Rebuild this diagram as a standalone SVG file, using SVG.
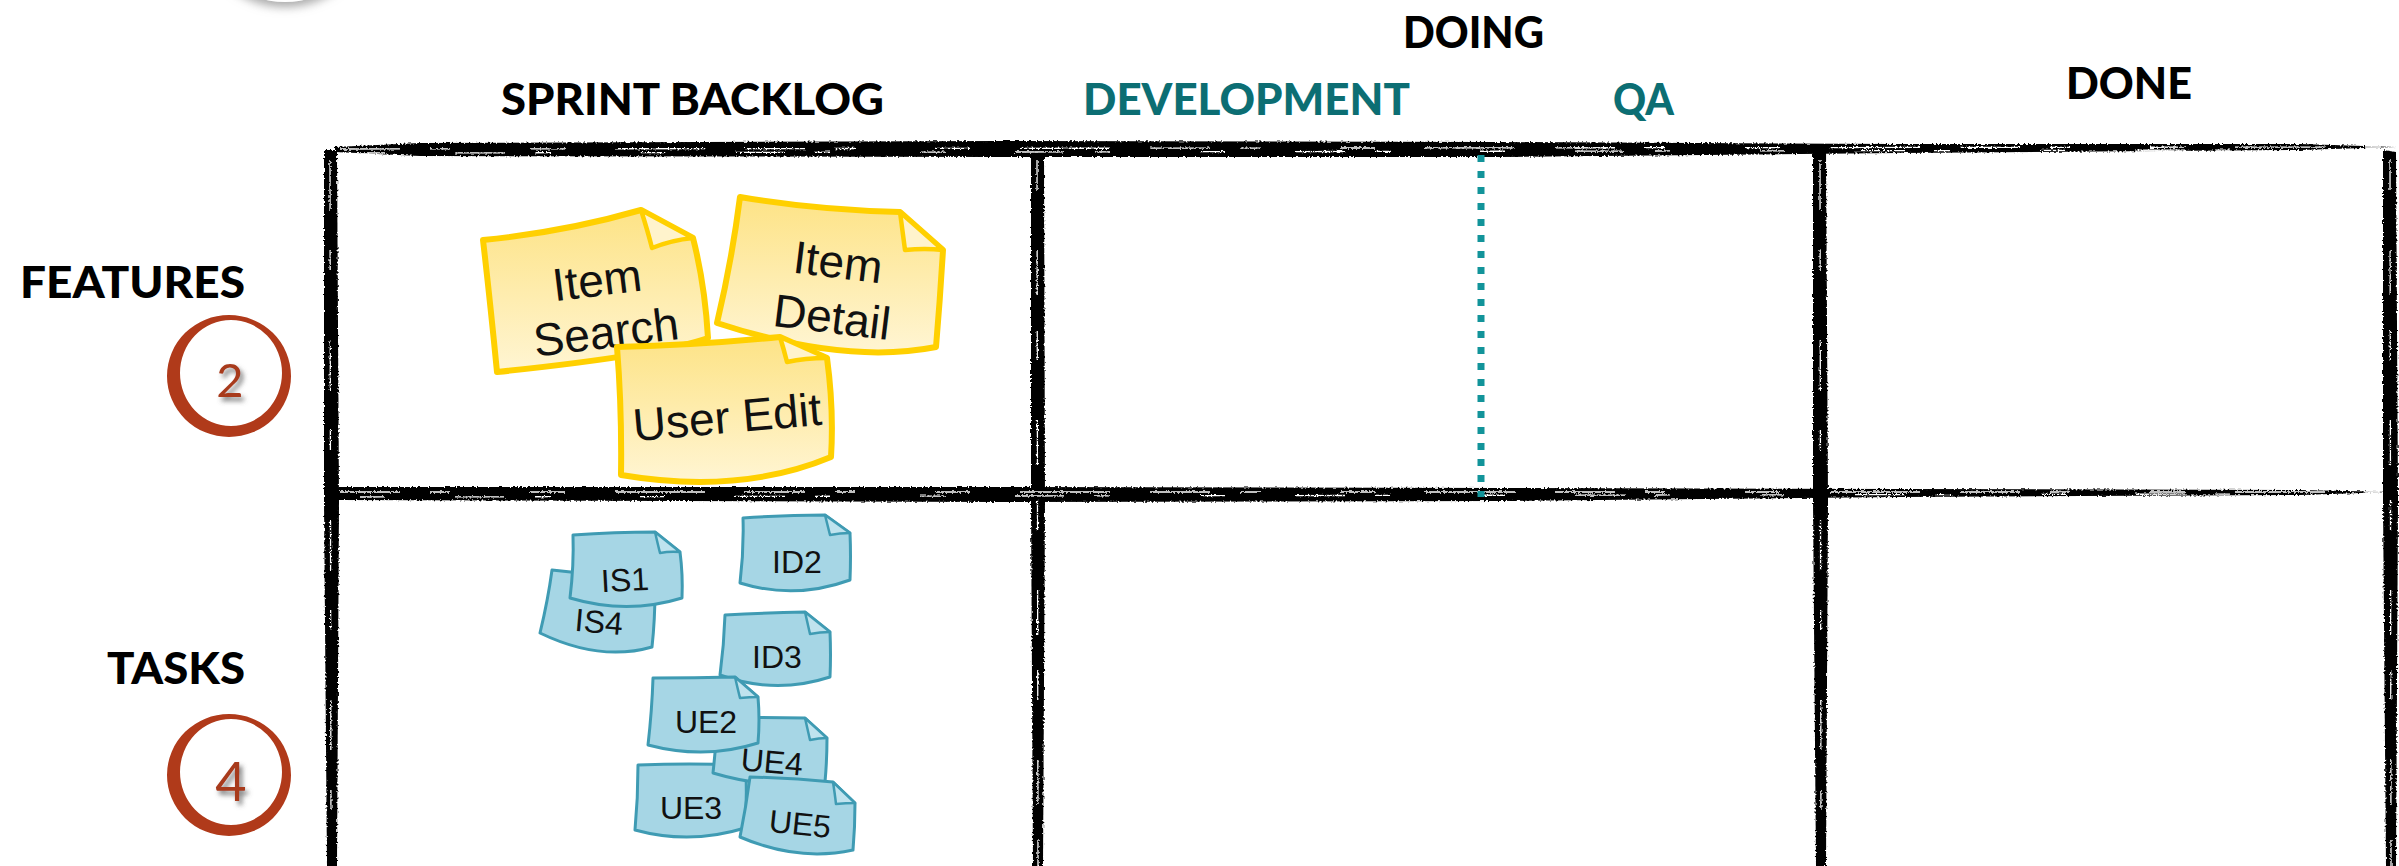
<svg xmlns="http://www.w3.org/2000/svg" width="2399" height="866" viewBox="0 0 2399 866">
<defs>
<style>
.hdr{font-family:Lato,"Open Sans","Liberation Sans",sans-serif;font-weight:900;font-size:44px;fill:#000}
.teal{fill:#0c6e73}
.ntxt{font-family:"Liberation Sans",Arial,sans-serif;font-size:46px;fill:#111;text-anchor:middle}
.ttxt{font-family:"Liberation Sans",Arial,sans-serif;font-size:32px;fill:#111;text-anchor:middle}
.ynote{fill:url(#yg);stroke:#ffd000;stroke-width:6;stroke-linejoin:round}
.yfold{fill:#fff3cc;stroke:#ffd000;stroke-width:4.5;stroke-linejoin:round}
.bnote{fill:#a6d6e5;stroke:#3f9bb3;stroke-width:3;stroke-linejoin:round}
.bfold{fill:#bfe3ee;stroke:#3f9bb3;stroke-width:2.5;stroke-linejoin:round}
.ink{fill:#000}
.streak{fill:none;stroke:#fff;stroke-width:1.3}
.digit{font-family:Lato,"Open Sans",sans-serif;font-weight:400;fill:#a83a1c;text-anchor:middle}
.ring{fill:#b03a1a;fill-rule:evenodd}
</style>
<linearGradient id="yg" x1="0" y1="0" x2="0" y2="1">
<stop offset="0" stop-color="#fde386"/>
<stop offset="1" stop-color="#fff5d3"/>
</linearGradient>
<filter id="brush" filterUnits="userSpaceOnUse" x="0" y="0" width="2399" height="866">
<feTurbulence type="fractalNoise" baseFrequency="0.5" numOctaves="2" seed="7" result="n"/>
<feDisplacementMap in="SourceGraphic" in2="n" scale="3.5" xChannelSelector="R" yChannelSelector="G"/>
</filter>
<filter id="shadow" x="-40%" y="-40%" width="180%" height="180%">
<feDropShadow dx="3" dy="4" stdDeviation="2.5" flood-color="#555" flood-opacity="0.75"/>
</filter>
<filter id="soft" x="-30%" y="-30%" width="160%" height="160%">
<feDropShadow dx="0" dy="5" stdDeviation="5" flood-color="#888" flood-opacity="0.7"/>
</filter>
</defs>
<rect width="2399" height="866" fill="#fff"/>

<ellipse cx="285" cy="-64" rx="78" ry="66" fill="#fff" filter="url(#soft)"/>

<g id="board-lines" filter="url(#brush)">
<path class="ink" d="M335,147 L420,143 L1000,141 L1500,142 L1900,144 L2300,144 L2396,147 L2300,150 L1900,153 L1500,157 L1000,157 L420,156 L335,152 Z"/>
<path class="ink" d="M338,487 L1000,487 L1500,488 L1900,489 L2300,490 L2392,492 L2300,495 L1900,497 L1500,501 L1000,502 L338,500 Z"/>
<path class="ink" d="M324,150 L337,150 L339,500 L337,866 L327,866 L324,500 Z"/>
<path class="ink" d="M1031,152 L1044,152 L1045,500 L1043,866 L1033,866 L1031,500 Z"/>
<path class="ink" d="M1813,148 L1826,148 L1828,500 L1826,866 L1816,866 L1813,500 Z"/>
<path class="ink" d="M2383,150 L2396,152 L2398,500 L2396,866 L2386,866 L2383,500 Z"/>
<path class="streak" stroke-dasharray="60 30 20 80 35 50 90 40" d="M340,149 L2380,147"/>
<path class="streak" stroke-dasharray="25 70 50 30 15 90" d="M360,153 L2300,150"/>
<path class="streak" stroke-dasharray="60 30 20 80 35 50 90 40" d="M340,492 L2380,492"/>
<path class="streak" stroke-dasharray="25 70 50 30 15 90" d="M360,497 L2300,494"/>
<path class="streak" stroke-dasharray="50 40 20 70" d="M330,160 L331,866"/>
<path class="streak" stroke-dasharray="30 60 45 35" d="M1037,160 L1038,866"/>
<path class="streak" stroke-dasharray="50 40 20 70" d="M1820,160 L1821,866"/>
<path class="streak" stroke-dasharray="30 60 45 35" d="M2390,160 L2391,866"/>
</g>
<line id="doing-divider" x1="1481" y1="155" x2="1481" y2="497" stroke="#12949a" stroke-width="7" stroke-dasharray="7 9"/>

<g id="header-doing"><text class="hdr" x="1403" y="48" font-size="40" textLength="141" lengthAdjust="spacingAndGlyphs">DOING</text></g>
<g id="header-sprint-backlog"><text class="hdr" x="501" y="115" textLength="383" lengthAdjust="spacingAndGlyphs">SPRINT BACKLOG</text></g>
<g id="header-development"><text class="hdr teal" x="1083" y="115" textLength="327" lengthAdjust="spacingAndGlyphs">DEVELOPMENT</text></g>
<g id="header-qa"><text class="hdr teal" x="1613" y="115" textLength="61" lengthAdjust="spacingAndGlyphs">QA</text></g>
<g id="header-done"><text class="hdr" x="2066" y="99" font-size="43" textLength="126" lengthAdjust="spacingAndGlyphs">DONE</text></g>

<g id="row-features">
<text class="hdr" x="20" y="298" textLength="225" lengthAdjust="spacingAndGlyphs">FEATURES</text>
<path class="ring" d="M167,376 A62,61 0 1,0 291,376 A62,61 0 1,0 167,376 Z M180,373 A51,53 0 1,1 282,373 A51,53 0 1,1 180,373 Z"/>
<text class="digit" x="230" y="397" font-size="47" filter="url(#shadow)">2</text>
</g>
<g id="row-tasks">
<text class="hdr" x="107" y="684" textLength="138" lengthAdjust="spacingAndGlyphs">TASKS</text>
<path class="ring" d="M167,775 A62,61 0 1,0 291,775 A62,61 0 1,0 167,775 Z M180,772 A51,53 0 1,1 282,772 A51,53 0 1,1 180,772 Z"/>
<text class="digit" x="231" y="801" font-size="54" filter="url(#shadow)">4</text>
</g>

<g id="note-item-search">
<path class="ynote" d="M483,240 Q565,232 641,210 L693,238 Q705,285 708,338 Q660,355 497,372 Q490,300 483,240 Z"/>
<path class="yfold" d="M641,210 Q648,232 652,248 Q672,240 693,238 Z"/>
<text class="ntxt" x="597" y="296" transform="rotate(-7 597 280)">Item</text>
<text class="ntxt" x="606" y="348" transform="rotate(-7 606 332)">Search</text>
</g>
<g id="note-item-detail">
<path class="ynote" d="M740,197 Q815,210 900,212 L943,250 Q940,300 936,347 Q845,365 717,323 Q732,260 740,197 Z"/>
<path class="yfold" d="M900,212 Q903,235 905,250 Q925,248 943,250 Z"/>
<text class="ntxt" x="838" y="278" transform="rotate(7 838 262)">Item</text>
<text class="ntxt" x="832" y="333" transform="rotate(7 832 317)">Detail</text>
</g>
<g id="note-user-edit">
<path class="ynote" d="M617,347 Q700,345 780,337 L827,358 Q834,410 831,457 Q740,495 621,475 Q622,410 617,347 Z"/>
<path class="yfold" d="M780,337 Q784,350 787,362 Q805,358 827,358 Z"/>
<text class="ntxt" x="727" y="433" transform="rotate(-5 727 417)">User Edit</text>
</g>

<g id="task-is4">
<path class="bnote" d="M552,570 Q600,575 645,580 L655,590 Q655,620 652,647 Q600,662 540,633 Q548,600 552,570 Z"/>
<text class="ttxt" x="599" y="633" transform="rotate(5 599 622)">IS4</text>
</g>
<g id="task-is1">
<path class="bnote" d="M573,535 Q615,532 655,532 L680,552 Q683,575 682,598 Q627,615 570,598 Q574,565 573,535 Z"/>
<path class="bfold" d="M655,532 Q658,545 660,553 Q670,551 680,552 Z"/>
<text class="ttxt" x="625" y="591" transform="rotate(-3 625 580)">IS1</text>
</g>
<g id="task-id2">
<path class="bnote" d="M743,518 Q785,515 825,515 L850,533 Q851,556 850,580 Q795,600 740,583 Q744,550 743,518 Z"/>
<path class="bfold" d="M825,515 Q828,527 830,535 Q840,533 850,533 Z"/>
<text class="ttxt" x="797" y="573">ID2</text>
</g>
<g id="task-id3">
<path class="bnote" d="M725,615 Q765,613 805,612 L830,632 Q831,655 830,677 Q775,695 720,675 Q724,645 725,615 Z"/>
<path class="bfold" d="M805,612 Q808,625 810,634 Q820,632 830,632 Z"/>
<text class="ttxt" x="777" y="668">ID3</text>
</g>
<g id="task-ue3">
<path class="bnote" d="M638,765 Q690,763 740,765 L746,775 Q747,800 745,828 Q690,845 635,830 Q638,798 638,765 Z"/>
<text class="ttxt" x="691" y="819">UE3</text>
</g>
<g id="task-ue4">
<path class="bnote" d="M718,718 Q760,717 805,718 L827,738 Q827,760 825,782 Q770,790 713,773 Q716,745 718,718 Z"/>
<path class="bfold" d="M805,718 Q808,731 810,740 Q819,738 827,738 Z"/>
<text class="ttxt" x="772" y="773" transform="rotate(5 772 762)">UE4</text>
</g>
<g id="task-ue2">
<path class="bnote" d="M653,678 Q695,678 735,677 L758,697 Q760,720 758,743 Q705,760 648,745 Q652,710 653,678 Z"/>
<path class="bfold" d="M735,677 Q738,690 740,698 Q750,697 758,697 Z"/>
<text class="ttxt" x="706" y="733">UE2</text>
</g>
<g id="task-ue5">
<path class="bnote" d="M750,777 Q792,778 833,782 L855,803 Q855,827 853,850 Q798,862 740,837 Q746,807 750,777 Z"/>
<path class="bfold" d="M833,782 Q835,795 836,804 Q846,803 855,803 Z"/>
<text class="ttxt" x="800" y="835" transform="rotate(6 800 824)">UE5</text>
</g>
</svg>
